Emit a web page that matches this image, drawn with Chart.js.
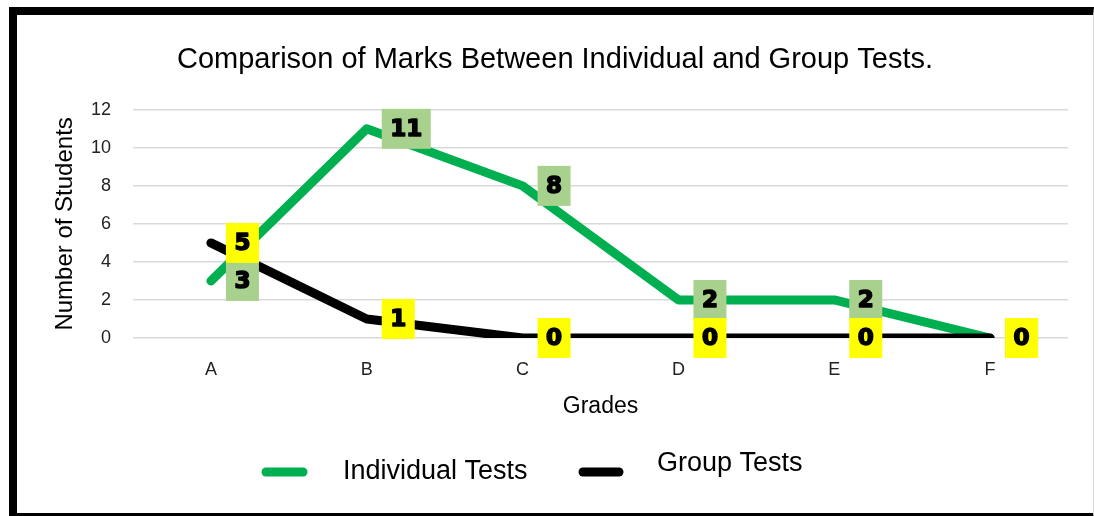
<!DOCTYPE html>
<html lang="en">
<head>
    <meta charset="UTF-8">
    <title>Comparison of Marks Between Individual and Group Tests</title>
    <style>
        body {
            margin: 0;
            background-color: #ffffff;
            overflow: hidden;
        }
        .frame {
            position: absolute;
            left: 9px;
            top: 7px;
            width: 1076px;
            height: 498px;
            border-left: 8px solid #000;
            border-top: 8px solid #000;
            border-bottom: 8px solid #000;
            border-right: 1px solid #d9d9d9;
            background-color: #ffffff;
        }
        canvas {
            display: block;
        }
    </style>
    <script src="https://cdn.jsdelivr.net/npm/chart.js@4"></script>
</head>
<body>
    <div class="frame">
        <canvas id="marksChart" width="1076" height="498"></canvas>
    </div>

    <script>
        const grades = ['A', 'B', 'C', 'D', 'E', 'F'];
        const individualTests = [3, 11, 8, 2, 2, 0];
        const groupTests = [5, 1, 0, 0, 0, 0];
        const yTicks = [0, 2, 4, 6, 8, 10, 12];

        const baseFont = "'Liberation Sans', Arial, sans-serif";
        const labelFont = "bold 23px 'DejaVu Sans', 'Liberation Sans', sans-serif";

        // boxes with the values, drawn to the right of each point
        const valueLabels = {
            id: 'valueLabels',
            afterDatasetsDraw(chart) {
                const ctx = chart.ctx;
                ctx.save();
                ctx.font = labelFont;
                ctx.textAlign = 'center';
                ctx.textBaseline = 'middle';
                ctx.lineJoin = 'round';
                chart.data.datasets.forEach((ds, i) => {
                    const meta = chart.getDatasetMeta(i);
                    meta.data.forEach((pt, j) => {
                        const text = String(ds.data[j]);
                        const w = ctx.measureText(text).width + 17;
                        const h = 40;
                        const x = pt.x + 15;
                        const y = pt.y - h / 2;
                        ctx.fillStyle = ds.labelBg;
                        ctx.fillRect(x, y, w, h);
                        ctx.fillStyle = '#000';
                        ctx.strokeStyle = '#000';
                        ctx.lineWidth = 1.6;
                        ctx.fillText(text, x + w / 2, pt.y + 1);
                        ctx.strokeText(text, x + w / 2, pt.y + 1);
                    });
                });
                ctx.restore();
            }
        };

        // legend drawn by hand, the original one is a bit offset
        const legendBox = {
            id: 'legendBox',
            afterDraw(chart) {
                const ctx = chart.ctx;
                const y = chart.height - 41;
                ctx.save();
                ctx.lineCap = 'round';
                ctx.lineWidth = 9;
                ctx.strokeStyle = '#00b050';
                ctx.beginPath();
                ctx.moveTo(249, y);
                ctx.lineTo(286, y);
                ctx.stroke();
                ctx.strokeStyle = '#000';
                ctx.beginPath();
                ctx.moveTo(566, y);
                ctx.lineTo(602, y);
                ctx.stroke();
                ctx.fillStyle = '#000';
                ctx.font = '27px ' + baseFont;
                ctx.textBaseline = 'middle';
                ctx.fillText('Individual Tests', 326, y);
                ctx.fillText('Group Tests', 640, y - 8);
                ctx.restore();
            }
        };

        const ctx = document.getElementById('marksChart').getContext('2d');
        new Chart(ctx, {
            type: 'line',
            data: {
                labels: grades,
                datasets: [
                    {
                        label: 'Individual Tests',
                        data: individualTests,
                        borderColor: '#00b050',
                        backgroundColor: '#00b050',
                        labelBg: '#a9d18e',
                        borderWidth: 9,
                        borderCapStyle: 'round',
                        borderJoinStyle: 'round',
                        pointRadius: 0,
                        tension: 0,
                        order: 1
                    },
                    {
                        label: 'Group Tests',
                        data: groupTests,
                        borderColor: '#000000',
                        backgroundColor: '#000000',
                        labelBg: '#ffff00',
                        borderWidth: 9,
                        borderCapStyle: 'round',
                        borderJoinStyle: 'round',
                        pointRadius: 0,
                        tension: 0,
                        order: 0
                    }
                ]
            },
            options: {
                responsive: false,
                animation: false,
                layout: {
                    padding: { left: 0, right: 0, top: 0, bottom: 80 }
                },
                plugins: {
                    legend: { display: false },
                    tooltip: { enabled: false },
                    title: {
                        display: true,
                        text: 'Comparison of Marks Between Individual and Group Tests.',
                        color: '#000',
                        font: { family: baseFont, size: 29, weight: 'normal' },
                        padding: { top: 28, bottom: 32 }
                    }
                },
                scales: {
                    x: {
                        offset: true,
                        grid: { display: false, drawTicks: false },
                        border: { display: false },
                        ticks: {
                            color: '#222',
                            padding: 21,
                            font: { family: baseFont, size: 18 }
                        },
                        title: {
                            display: true,
                            text: 'Grades',
                            color: '#000',
                            font: { family: baseFont, size: 23 },
                            padding: { top: 0, bottom: 13 }
                        },
                        afterFit(scale) { scale.height = 95; }
                    },
                    y: {
                        min: 0,
                        max: 12,
                        afterBuildTicks(scale) {
                            scale.ticks = yTicks.map(v => ({ value: v }));
                        },
                        grid: { color: '#d9d9d9', lineWidth: 1.5, drawTicks: false },
                        border: { display: false },
                        ticks: {
                            color: '#222',
                            padding: 22,
                            font: { family: baseFont, size: 18 }
                        },
                        title: {
                            display: true,
                            text: 'Number of Students',
                            color: '#000',
                            font: { family: baseFont, size: 24 },
                            padding: { top: 34, bottom: 0 }
                        },
                        afterFit(scale) { scale.width = 116; }
                    },
                    // empty strip on the right so the title stays centred on the whole frame
                    yRight: {
                        position: 'right',
                        grid: { display: false, drawTicks: false },
                        border: { display: false },
                        ticks: { display: false },
                        afterFit(scale) { scale.width = 25; }
                    }
                }
            },
            plugins: [valueLabels, legendBox]
        });
    </script>
</body>
</html>
